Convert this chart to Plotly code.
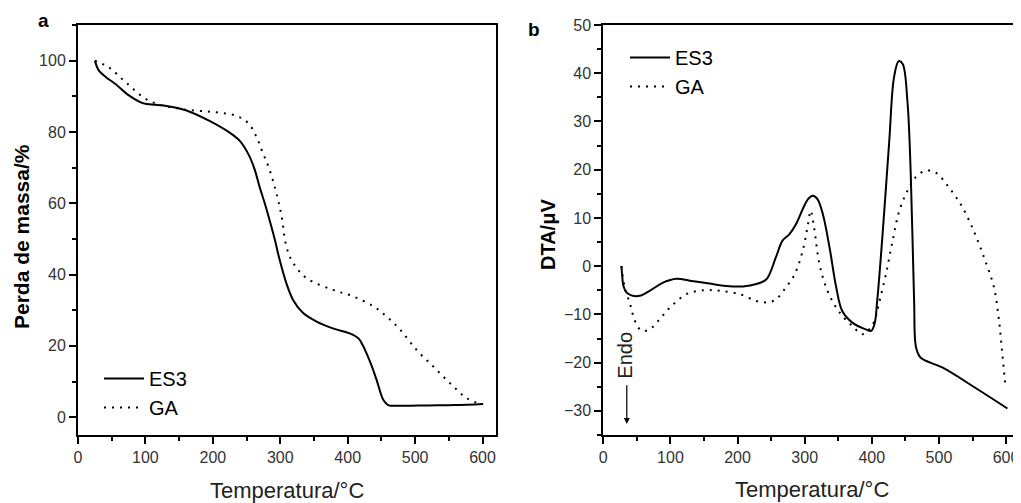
import plotly.graph_objects as go

# ---- Data ----
tg_es3_x = [25, 31, 42, 56, 76, 96, 115, 131, 160, 195, 225, 240, 254, 262, 269, 277, 284, 292, 299,
            309, 319, 334, 354, 378, 403, 416, 422, 428, 436, 443, 453, 460, 477, 520, 560, 601]
tg_es3_y = [100, 97.2, 95.3, 93.4, 90.2, 88.1, 87.6, 87.3, 86.1, 83.1, 79.8, 77.5, 73.3, 69.5, 64.8, 60,
            55.4, 49.8, 44.2, 37.6, 32.9, 29.2, 26.8, 24.9, 23.5, 22.1, 20.3, 17.9, 14.2, 10.4, 4.8, 3.4,
            3.2, 3.3, 3.4, 3.7]

tg_ga_x = [25, 46, 71, 106, 155, 205, 235, 252, 264, 274, 284, 294, 302, 309, 319, 339, 378, 408, 438,
           458, 478, 502, 527, 552, 577, 597]
tg_ga_y = [100, 98.1, 93.9, 88.7, 86.4, 85.5, 84.5, 82.6, 78.9, 74.2, 69.5, 63, 56.4, 47.9, 43.3, 39,
           35.7, 33.9, 31.1, 28.2, 24.5, 18.9, 14.2, 9.5, 5.3, 3.7]

dta_es3_x = [27, 28, 30, 35, 52, 69, 89, 109, 129, 158, 183, 208, 228, 243, 257, 267, 277, 287, 297, 305,
             312, 319, 327, 337, 347, 356, 371, 391, 399, 404, 408, 416, 426, 433, 440, 446, 453, 458,
             463, 466, 473, 505, 554, 602]
dta_es3_y = [0, -1.7, -4.1, -5.5, -6.2, -5.1, -3.4, -2.6, -3.0, -3.6, -4.1, -4.2, -3.7, -2.7, 1.8, 5.3,
             6.6, 8.7, 11.8, 13.9, 14.6, 13.9, 10.8, 3.9, -4.4, -9.3, -11.7, -13.1, -13.4, -12, -7.2, 6.6,
             26, 39.1, 42.5, 41.9, 34.3, 19.1, -7.2, -16.9, -19, -21, -25.2, -29.5]

dta_ga_x = [27, 32, 40, 47, 57, 69, 84, 99, 124, 149, 173, 203, 228, 245, 257, 272, 285, 297, 305, 309,
            314, 322, 332, 344, 356, 371, 386, 396, 404, 411, 421, 431, 441, 453, 465, 480, 495, 515,
            535, 554, 569, 582, 589, 594, 599]
dta_ga_y = [0, -4.4, -7.9, -11.3, -13.4, -13.1, -11, -8.6, -5.8, -5, -5.1, -5.8, -7.2, -7.5, -6.9, -4.4,
            -1.7, 3.2, 8.7, 11.5, 8, 0.4, -4.4, -7.9, -10.3, -12.4, -14.1, -13.1, -11.3, -7.5, -1.7, 5.3,
            11.5, 15.6, 18.4, 19.8, 19.4, 16.3, 12.2, 6.6, 1.1, -4.4, -10.7, -17.6, -24.8]

series_names = ["ES3", "GA"]
x_title = "Temperatura/°C"
y_title_a = "Perda de massa/%"
y_title_b = "DTA/μV"

# ---- Styling ----
FONT = "Arial, 'Liberation Sans', sans-serif"
WIN_W, WIN_H = 1021, 503
OFF = 8  # default body margin of the html page
W, H = WIN_W - OFF, WIN_H - OFF

def px_x(p):
    return (p - OFF) / W

def px_y(p):
    return 1 - (p - OFF) / H

solid = dict(color="black", width=2)
dotted = dict(color="black", width=2, dash="2px,6px")

fig = go.Figure()
fig.add_trace(go.Scatter(x=tg_es3_x, y=tg_es3_y, mode="lines", name=series_names[0], line=solid,
                         line_shape="spline", xaxis="x", yaxis="y", legend="legend"))
fig.add_trace(go.Scatter(x=tg_ga_x, y=tg_ga_y, mode="lines", name=series_names[1], line=dotted,
                         line_shape="spline", xaxis="x", yaxis="y", legend="legend"))
fig.add_trace(go.Scatter(x=dta_es3_x, y=dta_es3_y, mode="lines", name=series_names[0], line=solid,
                         line_shape="spline", xaxis="x2", yaxis="y2", legend="legend2"))
fig.add_trace(go.Scatter(x=dta_ga_x, y=dta_ga_y, mode="lines", name=series_names[1], line=dotted,
                         line_shape="spline", xaxis="x2", yaxis="y2", legend="legend2"))

ydom = [px_y(435), px_y(25)]
xdom_a = [px_x(78), px_x(496)]
xdom_b = [px_x(603.3), px_x(1019.5)]

def xaxis(dom, anchor):
    return dict(domain=dom, anchor=anchor, range=[0, 620], dtick=100, tick0=0, automargin=False,
                ticks="outside", ticklen=7, tickwidth=1.5, tickcolor="black",
                minor=dict(dtick=50, ticks="outside", ticklen=4, tickwidth=1.5, tickcolor="black"),
                showline=True, linecolor="black", linewidth=2, mirror=True,
                showgrid=False, zeroline=False,
                tickfont=dict(family=FONT, size=16, color="#333"))

def yaxis(dom, anchor, rng, dt, mdt):
    return dict(domain=dom, anchor=anchor, range=rng, dtick=dt, tick0=0, automargin=False,
                ticks="outside", ticklen=7, tickwidth=1.5, tickcolor="black",
                minor=dict(dtick=mdt, ticks="outside", ticklen=4, tickwidth=1.5, tickcolor="black"),
                showline=True, linecolor="black", linewidth=2, mirror=True,
                showgrid=False, zeroline=False,
                tickfont=dict(family=FONT, size=16, color="#333"))

legend_style = dict(xanchor="left", yanchor="top", bgcolor="rgba(0,0,0,0)",
                    font=dict(family=FONT, size=20, color="black"), tracegroupgap=0, itemwidth=40)

fig.update_layout(
    template="none",
    width=W, height=H,
    margin=dict(l=0, r=0, t=0, b=0),
    plot_bgcolor="white", paper_bgcolor="white",
    xaxis=xaxis(xdom_a, "y"),
    yaxis=yaxis(ydom, "x", [-5, 110], 20, 10),
    xaxis2=xaxis(xdom_b, "y2"),
    yaxis2=yaxis(ydom, "x2", [-35, 50], 10, 5),
    legend=dict(x=px_x(99), y=px_y(359), **legend_style),
    legend2=dict(x=px_x(625), y=px_y(38), **legend_style),
    showlegend=True,
)

def label(text, x, y, size, color="black", angle=0):
    return dict(text=text, xref="paper", yref="paper", x=px_x(x), y=px_y(y),
                xanchor="center", yanchor="middle", textangle=angle, showarrow=False,
                font=dict(family=FONT, size=size, color=color))

annotations = [
    label("<b>a</b>", 43, 20, 19),
    label("<b>b</b>", 534, 29, 19),
    label(x_title, 287, 490, 22, "#222"),
    label(x_title, 812, 489, 22, "#222"),
    label("<b>" + y_title_a + "</b>", 21, 237, 21, angle=-90),
    label("<b>" + y_title_b + "</b>", 548, 235, 20, angle=-90),
    dict(text="Endo", xref="x2", yref="y2", x=32, y=-18.4, textangle=-90,
         xanchor="center", yanchor="middle",
         showarrow=False, font=dict(family=FONT, size=20, color="#222")),
    dict(text="", xref="x2", yref="y2", x=35, y=-32.7, axref="x2", ayref="y2", ax=35, ay=-24.4,
         showarrow=True, arrowhead=2, arrowsize=1, arrowwidth=1.2, arrowcolor="black"),
]
fig.update_layout(annotations=annotations)

fig.write_html("out.html")
